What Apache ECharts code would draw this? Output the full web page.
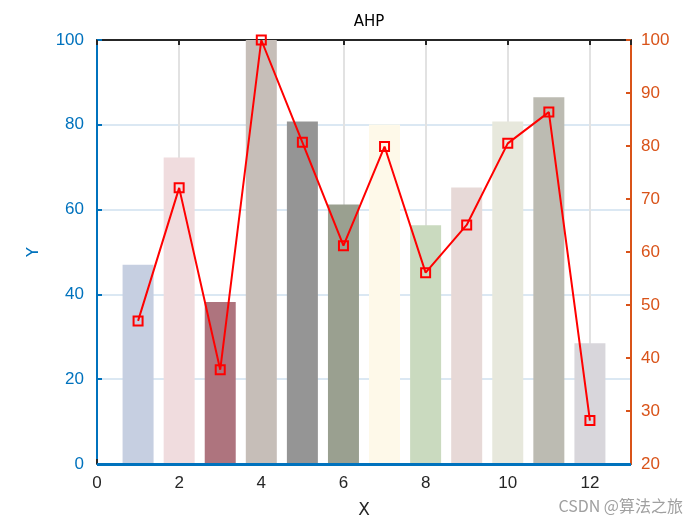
<!DOCTYPE html>
<html><head><meta charset="utf-8">
<script src="https://cdn.jsdelivr.net/npm/echarts@6/dist/echarts.min.js"></script>
<style>html,body{margin:0;padding:0;background:#fff}#c{width:700px;height:525px}</style>
</head><body><div id="c"></div>
<script>
const xs = [1,2,3,4,5,6,7,8,9,10,11,12];
const barValues = [47, 72.3, 38.2, 100, 80.8, 61.2, 80.1, 56.3, 65.2, 80.8, 86.5, 28.5];
const lineValues = [47, 72.1, 37.8, 100, 80.7, 61.2, 79.9, 56.1, 65.1, 80.5, 86.4, 28.2];
const barColors = ['#C6CFE1','#F0DCDE','#AE747E','#C6BEB8','#959595','#9AA090','#FEF9E9','#CADABF','#E7D9D7','#E7E8DC','#BCBBB2','#D8D6DB'];
const xTicks = [0,2,4,6,8,10,12];

const chart = echarts.init(document.getElementById('c'));
const font = 'Liberation Sans, Arial, sans-serif';
chart.setOption({
  animation: false,
  title: {text: 'AHP', left: 364, top: 10, textAlign: 'center',
    textStyle: {fontSize: 15, fontWeight: 'normal', color: '#000', fontFamily: 'DejaVu Sans'}},
  grid: {left: 97, right: 69, top: 40, bottom: 61},
  xAxis: [{
    type: 'value', min: 0, max: 13, interval: 2, position: 'bottom',
    name: 'X', nameLocation: 'middle', nameGap: 38,
    nameTextStyle: {fontSize: 17, color: '#262626', fontFamily: 'DejaVu Sans'},
    axisLine: {show: true, onZero: false, lineStyle: {color: '#3a3a3a', width: 1}},
    axisTick: {show: true, inside: true, length: 5, lineStyle: {color: '#262626', width: 2}},
    axisLabel: {fontSize: 17, color: '#262626', margin: 11, fontFamily: font, showMaxLabel: false,
      formatter: v => xTicks.includes(v) ? String(v) : ''},
    splitLine: {show: true, lineStyle: {color: '#e2e2e2', width: 2}}
  },{
    type: 'value', min: 0, max: 13, interval: 2, position: 'top',
    axisLine: {show: true, onZero: false, lineStyle: {color: '#262626', width: 2}},
    axisTick: {show: true, inside: true, length: 5, lineStyle: {color: '#262626', width: 2}},
    axisLabel: {show: false}, splitLine: {show: false}
  }],
  yAxis: [{
    type: 'value', min: 0, max: 100, interval: 20, position: 'left',
    name: 'Y', nameLocation: 'middle', nameGap: 55,
    nameTextStyle: {fontSize: 16, color: '#0072BD', fontFamily: 'DejaVu Sans'},
    axisLine: {show: true, onZero: false, lineStyle: {color: '#0072BD', width: 2}},
    axisTick: {show: true, inside: true, length: 5, lineStyle: {color: '#0072BD', width: 2}},
    axisLabel: {fontSize: 17, color: '#0072BD', margin: 13, fontFamily: font},
    splitLine: {show: true, lineStyle: {color: '#dbe8f3', width: 2}}
  },{
    type: 'value', min: 20, max: 100, interval: 10, position: 'right',
    axisLine: {show: true, onZero: false, lineStyle: {color: '#D95319', width: 2}},
    axisTick: {show: true, inside: true, length: 5, lineStyle: {color: '#D95319', width: 2}},
    axisLabel: {fontSize: 17, color: '#D95319', margin: 10, fontFamily: font},
    splitLine: {show: false}
  }],
  series: [{
    type: 'bar', xAxisIndex: 0, yAxisIndex: 0, barWidth: 31,
    data: xs.map((x, i) => ({value: [x, barValues[i]], itemStyle: {color: barColors[i]}})),
    markLine: {silent: true, symbol: 'none', label: {show: false},
      lineStyle: {color: '#0072BD', width: 3, type: 'solid'}, data: [{yAxis: 0}]}
  },{
    type: 'line', xAxisIndex: 0, yAxisIndex: 1,
    data: xs.map((x, i) => [x, lineValues[i]]),
    lineStyle: {color: '#FF0000', width: 2},
    symbol: 'rect', symbolSize: 9,
    itemStyle: {color: 'rgba(0,0,0,0)', borderColor: '#FF0000', borderWidth: 2},
    z: 5
  }],
  graphic: [{type: 'text', right: 17, top: 498,
    style: {text: 'CSDN @算法之旅', fontSize: 16, fill: '#a0a0a0', fontFamily: 'Noto Sans CJK SC, sans-serif'}}]
});
</script></body></html>
